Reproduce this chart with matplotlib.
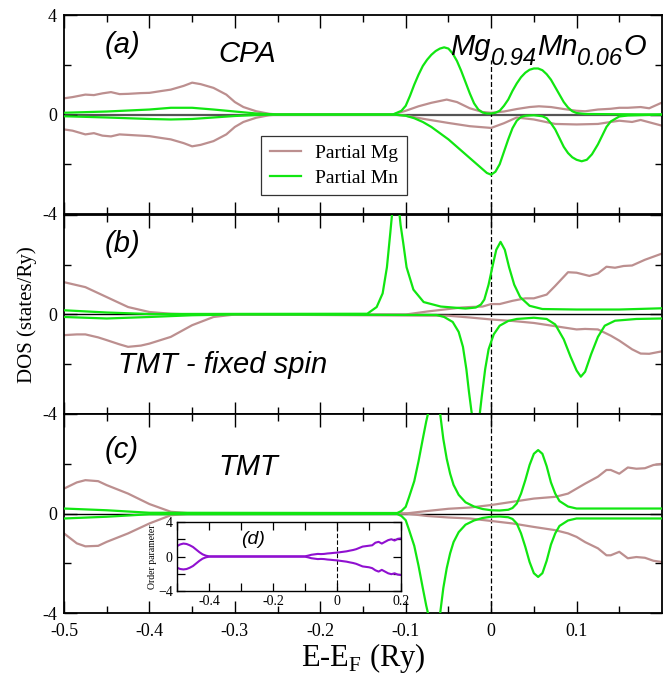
import matplotlib
matplotlib.use('Agg')
import matplotlib.pyplot as plt
from matplotlib.ticker import FixedLocator, FuncFormatter

plt.rcParams['font.family'] = ['Liberation Serif', 'DejaVu Serif']
plt.rcParams['mathtext.fontset'] = 'custom'
plt.rcParams['mathtext.rm'] = 'Liberation Serif'

BROWN = '#bc8f8f'
GREEN = '#11e611'
PURPLE = '#9010d0'

# ---------------- panel (a) CPA ----------------
mg_up_a_x = [-0.5, -0.49, -0.475, -0.465, -0.455, -0.445, -0.435, -0.425, -0.41, -0.4, -0.385, -0.375,
             -0.36, -0.35, -0.34, -0.325, -0.31, -0.3, -0.29, -0.275, -0.26, -0.25, -0.115, -0.1, -0.085,
             -0.07, -0.052, -0.04, -0.025, -0.01, 0.0, 0.015, 0.03, 0.045, 0.056, 0.07, 0.085, 0.1, 0.11,
             0.125, 0.14, 0.15, 0.16, 0.175, 0.185, 0.2]
mg_up_a_y = [0.65, 0.7, 0.8, 0.78, 0.85, 0.9, 0.82, 0.83, 0.86, 0.87, 0.95, 1.0, 1.15, 1.28, 1.22, 1.07,
             0.8, 0.5, 0.3, 0.13, 0.03, 0.0, 0.0, 0.15, 0.33, 0.47, 0.6, 0.5, 0.25, 0.1, 0.07, 0.12, 0.22,
             0.3, 0.33, 0.3, 0.22, 0.15, 0.13, 0.2, 0.23, 0.27, 0.27, 0.3, 0.25, 0.48]
mg_dn_a_x = [-0.5, -0.49, -0.475, -0.465, -0.455, -0.445, -0.435, -0.425, -0.41, -0.4, -0.385, -0.375,
             -0.36, -0.35, -0.34, -0.325, -0.31, -0.3, -0.29, -0.275, -0.26, -0.25, -0.115, -0.1, -0.075,
             -0.05, -0.025, 0.0, 0.015, 0.03, 0.05, 0.075, 0.1, 0.125, 0.14, 0.15, 0.165, 0.175, 0.2]
mg_dn_a_y = [-0.6, -0.65, -0.8, -0.75, -0.85, -0.88, -0.8, -0.82, -0.85, -0.87, -0.95, -1.0, -1.15, -1.28,
             -1.22, -1.07, -0.8, -0.5, -0.3, -0.13, -0.03, 0.0, 0.0, -0.05, -0.2, -0.34, -0.47, -0.54,
             -0.35, -0.12, -0.2, -0.38, -0.4, -0.38, -0.3, -0.25, -0.3, -0.22, -0.45]
mn_up_a_x = [-0.5, -0.45, -0.4, -0.375, -0.35, -0.325, -0.3, -0.275, -0.25, -0.115, -0.105, -0.1, -0.095,
             -0.09, -0.085, -0.08, -0.075, -0.07, -0.065, -0.06, -0.055, -0.05, -0.045, -0.04, -0.035,
             -0.03, -0.025, -0.02, -0.015, -0.01, -0.005, 0.0, 0.005, 0.01, 0.015, 0.02, 0.025, 0.03,
             0.035, 0.04, 0.045, 0.05, 0.055, 0.06, 0.065, 0.07, 0.075, 0.08, 0.085, 0.09, 0.095, 0.1,
             0.11, 0.2]
mn_up_a_y = [0.07, 0.12, 0.2, 0.27, 0.27, 0.2, 0.12, 0.04, 0.0, 0.0, 0.15, 0.35, 0.75, 1.2, 1.6, 1.95,
             2.2, 2.4, 2.55, 2.65, 2.7, 2.65, 2.45, 2.15, 1.75, 1.3, 0.85, 0.45, 0.2, 0.08, 0.04, 0.04,
             0.07, 0.15, 0.35, 0.6, 0.95, 1.25, 1.5, 1.68, 1.8, 1.85, 1.85, 1.78, 1.62, 1.4, 1.1, 0.8,
             0.5, 0.28, 0.13, 0.06, 0.02, 0.0]
mn_dn_a_x = [-0.5, -0.45, -0.4, -0.375, -0.35, -0.325, -0.3, -0.275, -0.25, -0.115, -0.1, -0.09, -0.08,
             -0.07, -0.06, -0.05, -0.04, -0.03, -0.02, -0.01, -0.005, 0.0, 0.005, 0.01, 0.015, 0.02,
             0.025, 0.03, 0.035, 0.04, 0.05, 0.06, 0.065, 0.07, 0.075, 0.08, 0.085, 0.09, 0.095, 0.1,
             0.106, 0.112, 0.118, 0.125, 0.13, 0.135, 0.14, 0.15, 0.16, 0.2]
mn_dn_a_y = [-0.07, -0.12, -0.18, -0.2, -0.18, -0.12, -0.06, -0.02, 0.0, 0.0, -0.05, -0.15, -0.3, -0.5,
             -0.75, -1.0, -1.3, -1.6, -1.9, -2.2, -2.35, -2.42, -2.3, -2.0, -1.5, -1.0, -0.55, -0.25,
             -0.1, -0.05, -0.03, -0.07, -0.15, -0.35, -0.6, -0.95, -1.3, -1.55, -1.72, -1.82, -1.88,
             -1.82, -1.6, -1.2, -0.85, -0.5, -0.28, -0.08, -0.04, 0.0]

# ---------------- panel (b) TMT fixed spin ----------------
mg_up_b_x = [-0.5, -0.475, -0.45, -0.425, -0.4, -0.375, -0.35, -0.1, -0.075, -0.05, -0.035, -0.025,
             -0.01, 0.0, 0.01, 0.025, 0.04, 0.05, 0.065, 0.075, 0.09, 0.1, 0.115, 0.125, 0.135, 0.145,
             0.155, 0.165, 0.18, 0.2]
mg_up_b_y = [1.3, 1.1, 0.7, 0.3, 0.1, 0.03, 0.0, 0.0, 0.12, 0.22, 0.28, 0.3, 0.32, 0.42, 0.42, 0.55,
             0.65, 0.65, 0.8, 1.15, 1.7, 1.68, 1.55, 1.65, 1.92, 1.88, 1.95, 1.97, 2.2, 2.45]
mg_dn_b_x = [-0.5, -0.485, -0.475, -0.46, -0.45, -0.435, -0.425, -0.41, -0.4, -0.375, -0.35, -0.325,
             -0.3, -0.05, -0.025, 0.0, 0.025, 0.05, 0.075, 0.1, 0.11, 0.125, 0.14, 0.15, 0.165, 0.175,
             0.185, 0.2]
mg_dn_b_y = [-0.83, -0.8, -0.8, -0.92, -1.03, -1.2, -1.3, -1.25, -1.17, -0.9, -0.43, -0.1, 0.0, -0.05,
             -0.12, -0.2, -0.26, -0.34, -0.47, -0.6, -0.58, -0.6, -0.85, -1.05, -1.4, -1.57, -1.58, -1.48]
mn_up_b_x = [-0.5, -0.45, -0.4, -0.145, -0.134, -0.127, -0.122, -0.118, -0.115, -0.112, -0.109, -0.106,
             -0.103, -0.099, -0.091, -0.079, -0.059, -0.03, -0.018, -0.012, -0.008, -0.003, 0.002, 0.006,
             0.011, 0.016, 0.021, 0.027, 0.034, 0.045, 0.06, 0.1, 0.15, 0.2]
mn_up_b_y = [0.17, 0.08, 0.02, 0.03, 0.3, 0.85, 1.9, 3.3, 4.4, 5.0, 4.6, 3.6, 2.9, 1.9, 1.0, 0.5, 0.32,
             0.24, 0.28, 0.4, 0.6, 1.2, 2.0, 2.6, 2.92, 2.6, 1.9, 1.2, 0.7, 0.35, 0.22, 0.2, 0.2, 0.25]
mn_dn_b_x = [-0.5, -0.45, -0.4, -0.35, -0.3, -0.064, -0.055, -0.045, -0.038, -0.033, -0.029, -0.026,
             -0.023, -0.018, -0.014, -0.011, -0.007, -0.003, 0.003, 0.01, 0.02, 0.03, 0.05, 0.065, 0.075,
             0.085, 0.093, 0.1, 0.105, 0.11, 0.117, 0.125, 0.133, 0.145, 0.17, 0.2]
mn_dn_b_y = [-0.1, -0.16, -0.1, -0.03, 0.0, -0.02, -0.1, -0.3, -0.7, -1.3, -2.2, -3.1, -3.9, -5.0, -4.2,
             -3.3, -2.2, -1.4, -0.8, -0.45, -0.26, -0.18, -0.13, -0.18, -0.4, -1.0, -1.7, -2.25, -2.5,
             -2.3, -1.6, -0.9, -0.45, -0.25, -0.18, -0.16]

# ---------------- panel (c) TMT ----------------
mg_c_x = [-0.5, -0.485, -0.475, -0.46, -0.45, -0.425, -0.4, -0.375, -0.35, -0.1, -0.075, -0.05, -0.025,
          0.0, 0.025, 0.05, 0.075, 0.09, 0.1, 0.11, 0.125, 0.135, 0.14, 0.15, 0.16, 0.17, 0.18, 0.19, 0.2]
mg_up_c_y = [1.0, 1.25, 1.34, 1.3, 1.14, 0.8, 0.38, 0.07, 0.0, 0.0, 0.1, 0.19, 0.24, 0.34, 0.47, 0.6,
             0.67, 0.8, 1.0, 1.2, 1.48, 1.75, 1.75, 1.6, 1.85, 1.8, 1.82, 1.95, 2.0]
mg_dn_c_y = [-0.8, -1.2, -1.32, -1.3, -1.14, -0.8, -0.4, -0.07, 0.0, 0.0, -0.1, -0.16, -0.2, -0.3, -0.4,
             -0.54, -0.67, -0.8, -0.94, -1.15, -1.4, -1.68, -1.68, -1.54, -1.8, -1.75, -1.78, -1.9, -1.95]
mn_c_x = [-0.5, -0.45, -0.4, -0.11, -0.105, -0.1, -0.096, -0.09, -0.085, -0.08, -0.076, -0.072, -0.066,
          -0.06, -0.056, -0.052, -0.048, -0.044, -0.038, -0.03, -0.02, -0.01, 0.0, 0.01, 0.02, 0.025,
          0.03, 0.035, 0.04, 0.045, 0.05, 0.055, 0.06, 0.065, 0.07, 0.075, 0.08, 0.09, 0.1, 0.2]
mn_up_c_y = [0.2, 0.13, 0.03, 0.02, 0.1, 0.27, 0.67, 1.3, 2.1, 3.0, 3.7, 4.3, 5.0, 4.1, 3.0, 2.2, 1.6,
             1.15, 0.75, 0.45, 0.28, 0.18, 0.13, 0.12, 0.15, 0.22, 0.4, 0.8, 1.34, 1.95, 2.4, 2.55, 2.4,
             1.9, 1.25, 0.8, 0.5, 0.28, 0.2, 0.2]
mn_dn_c_y = [-0.2, -0.13, -0.03, -0.02, -0.1, -0.27, -0.67, -1.3, -2.1, -3.0, -3.7, -4.3, -5.0, -4.1,
             -3.0, -2.2, -1.6, -1.15, -0.75, -0.45, -0.28, -0.18, -0.13, -0.12, -0.15, -0.22, -0.4, -0.8,
             -1.34, -1.95, -2.4, -2.55, -2.4, -1.9, -1.25, -0.8, -0.5, -0.28, -0.2, -0.2]

# ---------------- inset (d) order parameter ----------------
op_x = [-0.5, -0.49, -0.48, -0.47, -0.46, -0.45, -0.44, -0.43, -0.42, -0.41, -0.4, -0.1, -0.09, -0.08,
        -0.07, -0.06, -0.05, -0.04, -0.03, -0.02, -0.01, 0.0, 0.01, 0.02, 0.03, 0.04, 0.05, 0.06, 0.07,
        0.08, 0.09, 0.1, 0.11, 0.12, 0.13, 0.14, 0.15, 0.16, 0.17, 0.18, 0.19, 0.2]
op_up = [1.2, 1.4, 1.5, 1.45, 1.3, 1.1, 0.8, 0.5, 0.25, 0.1, 0.02, 0.02, 0.1, 0.2, 0.25, 0.3, 0.28,
         0.3, 0.35, 0.38, 0.42, 0.45, 0.5, 0.55, 0.6, 0.68, 0.75, 0.85, 1.0, 1.15, 1.2, 1.25, 1.3, 1.6,
         1.7, 1.5, 1.7, 1.9, 2.0, 1.85, 2.05, 2.1]
op_dn = [-1.3, -1.45, -1.5, -1.45, -1.3, -1.1, -0.8, -0.5, -0.25, -0.1, -0.02, -0.02, -0.1, -0.2, -0.25,
         -0.3, -0.28, -0.3, -0.35, -0.38, -0.42, -0.45, -0.5, -0.55, -0.6, -0.68, -0.75, -0.85, -1.0,
         -1.15, -1.2, -1.25, -1.35, -1.6, -1.75, -1.55, -1.75, -1.95, -2.05, -1.95, -2.1, -2.15]

x_major = [-0.5, -0.4, -0.3, -0.2, -0.1, 0.0, 0.1]
x_minor = [-0.45, -0.35, -0.25, -0.15, -0.05, 0.05, 0.15]

# formula label of panel (a): (text, is_subscript)
formula = [('Mg', False), ('0.94', True), ('Mn', False), ('0.06', True), ('O', False)]


def fmt(v, pos):
    return '0' if abs(v) < 1e-9 else '%g' % round(v, 3)


fig = plt.figure(figsize=(6.72, 6.75), dpi=100)
L, W = 64 / 672, 598 / 672
H = 199 / 675
axes = [fig.add_axes([L, 1 - 214 / 675, W, H]),
        fig.add_axes([L, 1 - 414 / 675, W, H]),
        fig.add_axes([L, 1 - 613 / 675, W, H])]

panels = [
    (mg_up_a_x, mg_up_a_y, mg_dn_a_x, mg_dn_a_y, mn_up_a_x, mn_up_a_y, mn_dn_a_x, mn_dn_a_y),
    (mg_up_b_x, mg_up_b_y, mg_dn_b_x, mg_dn_b_y, mn_up_b_x, mn_up_b_y, mn_dn_b_x, mn_dn_b_y),
    (mg_c_x, mg_up_c_y, mg_c_x, mg_dn_c_y, mn_c_x, mn_up_c_y, mn_c_x, mn_dn_c_y),
]

for i, (ax, p) in enumerate(zip(axes, panels)):
    ax.axhline(0, color='#555555' if i == 0 else 'black', lw=1.6 if i == 0 else 1.0, zorder=1)
    ax.axvline(0, ymax=(2.2 + 4) / 8 if i == 0 else 1, color='black', lw=0.9, ls=(0, (4, 2)), zorder=1)
    ax.plot(p[0], p[1], color=BROWN, lw=1.6, label='Partial Mg', zorder=2)
    ax.plot(p[2], p[3], color=BROWN, lw=1.6, zorder=2)
    ax.plot(p[4], p[5], color=GREEN, lw=1.6, label='Partial Mn', zorder=3)
    ax.plot(p[6], p[7], color=GREEN, lw=1.6, zorder=3)
    ax.set_xlim(-0.5, 0.2)
    ax.set_ylim(-4, 4)
    ax.xaxis.set_major_locator(FixedLocator(x_major))
    ax.xaxis.set_minor_locator(FixedLocator(x_minor))
    ax.xaxis.set_major_formatter(FuncFormatter(fmt))
    ax.set_yticks([-4, 0, 4])
    ax.set_yticklabels(['-4', '0', '4' if i == 0 else ''])
    ax.yaxis.set_minor_locator(FixedLocator([-2, 2]))
    ax.tick_params(which='both', direction='in', top=True, right=True, labelsize=13, width=1.0)
    ax.tick_params(which='major', length=9)
    ax.tick_params(which='minor', length=5)
    ax.tick_params(axis='x', pad=7)
    ax.tick_params(axis='y', pad=5)
    if i < 2:
        ax.tick_params(labelbottom=False)
    for s in ax.spines.values():
        s.set_linewidth(1.3)

sans = ['Liberation Sans', 'DejaVu Sans']
ita = dict(family=sans, style='italic', fontsize=21)
axa, axb, axc = axes
axa.text(-0.432, 2.78, '(a)', ha='center', va='center', **ita)
axa.text(-0.286, 2.45, 'CPA', ha='center', va='center', **ita)

# chemical formula built piece by piece, subscripts large and low as in the original
prev = None
for s, sub in formula:
    if prev is None:
        prev = axa.text(-0.048, 2.4, s, ha='left', va='baseline', family=sans, style='italic', fontsize=21)
    elif sub:
        prev = axa.annotate(s, xy=(1, 0), xycoords=prev, xytext=(0, -3), textcoords='offset points',
                            ha='left', va='baseline', family=sans, style='italic', fontsize=17)
    else:
        prev = axa.annotate(s, xy=(1, 2.4), xycoords=(prev, 'data'), ha='left', va='baseline',
                            family=sans, style='italic', fontsize=21)

axb.text(-0.432, 2.85, '(b)', ha='center', va='center', **ita)
axb.text(-0.437, -2.05, 'TMT - fixed spin', ha='left', va='center', **ita)
axc.text(-0.432, 2.55, '(c)', ha='center', va='center', **ita)
axc.text(-0.284, 1.87, 'TMT', ha='center', va='center', **ita)

leg = axa.legend(loc='upper left', bbox_to_anchor=(0.314, 0.442), fontsize=14, frameon=True,
                 fancybox=False, edgecolor='black', handlelength=1.6, handletextpad=0.7,
                 borderpad=0.45, labelspacing=0.35)
leg.get_frame().set_linewidth(0.9)

axb.set_ylabel('DOS (states/Ry)', fontsize=15, labelpad=4)
axc.set_xlabel(r'E-E$_{\mathrm{F}}$ (Ry)', fontsize=22, labelpad=1)

# inset
ins = fig.add_axes([177 / 672, 1 - 591 / 675, 224 / 672, 69 / 675])
ins.axvline(0, color='black', lw=0.8, ls=(0, (4, 2)), zorder=1)
ins.plot(op_x, op_up, color=PURPLE, lw=1.5, zorder=2)
ins.plot(op_x, op_dn, color=PURPLE, lw=1.5, zorder=2)
ins.set_xlim(-0.5, 0.2)
ins.set_ylim(-4, 4)
ins.xaxis.set_major_locator(FixedLocator([-0.4, -0.2, 0.0, 0.2]))
ins.xaxis.set_minor_locator(FixedLocator([-0.5, -0.3, -0.1, 0.1]))
ins.xaxis.set_major_formatter(FuncFormatter(fmt))
ins.set_yticks([-4, 0, 4])
ins.yaxis.set_minor_locator(FixedLocator([-2, 2]))
ins.tick_params(which='both', direction='in', top=True, right=True, labelsize=10, width=0.9, pad=3)
ins.tick_params(which='major', length=6)
ins.tick_params(which='minor', length=6)
ins.set_ylabel('Order parameter', fontsize=7, labelpad=1)
ins.text(-0.2625, 1.94, '(d)', ha='center', va='center', family=sans, style='italic', fontsize=14)
for s in ins.spines.values():
    s.set_linewidth(1.0)

fig.savefig('out.png', dpi=100)
